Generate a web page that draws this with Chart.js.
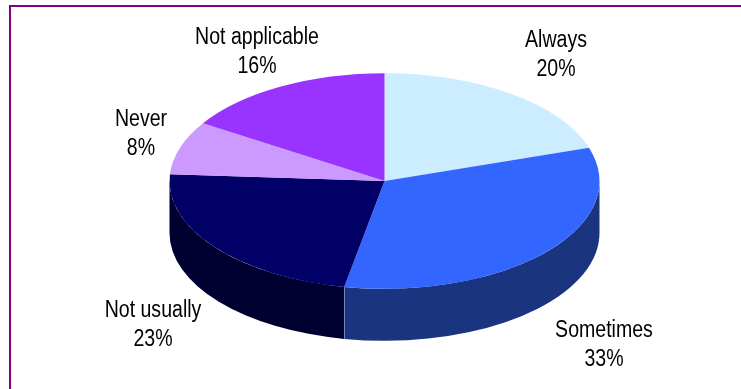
<!DOCTYPE html>
<html>
<head>
<meta charset="utf-8">
<script src="https://cdn.jsdelivr.net/npm/chart.js@4.4.1/dist/chart.umd.min.js"></script>
<style>
  html, body { margin: 0; padding: 0; background: #fff; }
  #wrap { position: relative; width: 741px; height: 389px; overflow: hidden; }
  #frame { position: absolute; left: 9px; top: 5px; width: 800px; height: 500px;
           border-top: 2px solid #800080; border-left: 2px solid #800080; box-sizing: border-box; }
  canvas { position: absolute; left: 0; top: 0; }
</style>
</head>
<body>
<div id="wrap"><div id="frame"></div><canvas id="pie" width="741" height="389"></canvas></div>
<script>
// data
const categories = ['Always', 'Sometimes', 'Not usually', 'Never', 'Not applicable'];
const shares = [20, 33, 23, 8, 16];
const topColors = ['#CCECFF', '#3366FF', '#000066', '#CC99FF', '#9933FF'];
const sideColors = ['#8FA5B3', '#1B3480', '#000030', '#8F6BB3', '#6B24B3'];

const tilt = 0.5014;  // squash of the pie top (ry / rx)
const depth = 52;     // height of the pie side

// fake 3d: side walls under the top, then squash the top face
const pie3d = {
  id: 'pie3d',
  beforeDatasetsDraw(chart) {
    const ctx = chart.ctx;
    const arcs = chart.getDatasetMeta(0).data;
    const props = ['x', 'y', 'startAngle', 'endAngle', 'outerRadius'];

    arcs.forEach((arc, i) => {
      const p = arc.getProps(props, true);
      // only the front half (0..PI) of the wall is seen
      const a0 = Math.max(p.startAngle, 0);
      const a1 = Math.min(p.endAngle, Math.PI);
      if (a1 <= a0) return;
      ctx.beginPath();
      ctx.ellipse(p.x, p.y, p.outerRadius, p.outerRadius * tilt, 0, a0, a1);
      ctx.ellipse(p.x, p.y + depth, p.outerRadius, p.outerRadius * tilt, 0, a1, a0, true);
      ctx.closePath();
      ctx.fillStyle = sideColors[i];
      ctx.fill();
    });

    // seam where two walls meet
    arcs.forEach((arc) => {
      const p = arc.getProps(props, true);
      const a = p.endAngle;
      if (a <= 0 || a >= Math.PI) return;
      const sx = p.x + p.outerRadius * Math.cos(a);
      const sy = p.y + p.outerRadius * tilt * Math.sin(a);
      ctx.beginPath();
      ctx.moveTo(Math.round(sx) + 0.5, sy);
      ctx.lineTo(Math.round(sx) + 0.5, sy + depth);
      ctx.strokeStyle = '#7585B5';
      ctx.lineWidth = 1;
      ctx.stroke();
    });

    const cy = arcs[0].y;
    ctx.save();
    ctx.translate(0, cy);
    ctx.scale(1, tilt);
    ctx.translate(0, -cy);
  },
  afterDatasetsDraw(chart) {
    chart.ctx.restore();
  },
  afterDraw(chart) {
    const ctx = chart.ctx;
    // centre x and first baseline of each label
    const spots = [[556, 47], [604, 337], [153, 317], [141, 126], [257, 44]];
    ctx.save();
    ctx.fillStyle = '#000';
    ctx.font = '23px "Liberation Sans", Arial, sans-serif';
    ctx.textAlign = 'center';
    ctx.textBaseline = 'alphabetic';
    categories.forEach((name, i) => {
      const [lx, ly] = spots[i];
      [name, shares[i] + '%'].forEach((t, k) => {
        ctx.save();
        ctx.translate(lx, ly + k * 29);
        ctx.scale(0.85, 1);
        ctx.fillText(t, 0, 0);
        ctx.restore();
      });
    });
    ctx.restore();
  }
};

new Chart(document.getElementById('pie'), {
  type: 'pie',
  data: {
    labels: categories,
    datasets: [{
      data: shares,
      backgroundColor: topColors,
      borderWidth: 0,
      hoverOffset: 0,
      clip: false
    }]
  },
  options: {
    responsive: false,
    animation: false,
    radius: 215,
    rotation: 0,
    layout: { padding: { left: 28, right: 0, top: 0, bottom: 27 } },
    plugins: {
      legend: { display: false },
      tooltip: { enabled: false }
    }
  },
  plugins: [pie3d]
});
</script>
</body>
</html>
